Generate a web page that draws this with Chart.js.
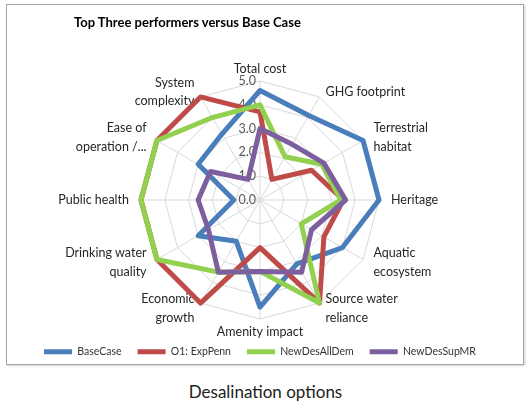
<!DOCTYPE html>
<html>
<head>
<meta charset="utf-8">
<script src="https://cdn.jsdelivr.net/npm/chart.js@4.4.1/dist/chart.umd.min.js"></script>
<style>
  body { margin: 0; background: #fff; font-family: Lato, "Liberation Sans", sans-serif; }
  #box {
    position: absolute; left: 6px; top: 4px; width: 516px; height: 359px;
    border: 1px solid #a6a6a6; box-shadow: 1px 1px 2px #d0d0d0;
  }
  #plot { position: absolute; left: 0; top: 0; width: 516px; height: 362px; }
  #title {
    position: absolute; left: 67px; top: 9px;
    font-weight: bold; font-size: 13px; color: #000;
  }
  #caption {
    position: absolute; left: 0; width: 531px; top: 381px;
    text-align: center; font-size: 17px; color: #222;
  }
</style>
</head>
<body>
<div id="box">
  <div id="plot"><canvas id="radar"></canvas></div>
  <div id="title">Top Three performers versus Base Case</div>
</div>
<div id="caption">Desalination options</div>

<script>
//----------------------
// Data
//----------------------

const categories = [
  'Total cost', 'GHG footprint', ['Terrestrial', 'habitat'], 'Heritage',
  ['Aquatic', 'ecosystem'], ['Source water', 'reliance'], 'Amenity impact',
  ['Economic', 'growth'], ['Drinking water', 'quality'], 'Public health',
  ['Ease of', 'operation /...'], ['System', 'complexity']
];

const baseCase     = [4.6, 4.1, 5.0, 5.0, 4.0, 3.1, 4.5, 2.0, 3.0, 1.1, 3.0, 3.2];
const expPenn      = [3.7, 1.0, 2.5, 3.5, 3.1, 5.0, 2.0, 5.0, 5.0, 5.0, 5.0, 5.0];
const newDesAllDem = [4.0, 2.1, 3.0, 3.4, 2.0, 5.0, 3.0, 3.5, 5.0, 5.0, 5.0, 4.0];
const newDesSupMR  = [3.0, 2.7, 3.1, 3.6, 2.5, 3.5, 3.0, 3.5, 2.5, 2.6, 2.4, 1.0];

const tickValues = [0, 1, 2, 3, 4, 5];
const tickLabels = ['0.0', '1.0', '2.0', '3.0', '4.0', '5.0'];

const FONT = 'Lato, "Liberation Sans", sans-serif';

//----------------------
// Tick labels left of the vertical axis, and Excel-like category labels
//----------------------

const labelPlugin = {
  id: 'labelPlugin',
  beforeDatasetsDraw(chart) {
    const r = chart.scales.r;
    const ctx = chart.ctx;
    ctx.save();
    ctx.font = '12.5px ' + FONT;
    ctx.textBaseline = 'middle';

    // ticks
    ctx.fillStyle = '#595959';
    ctx.textAlign = 'right';
    tickValues.forEach((v, i) => {
      const y = r.yCenter - r.getDistanceFromCenterForValue(v);
      ctx.fillText(tickLabels[i], r.xCenter - 4, y);
    });

    // category labels, centred vertically on their anchor like Excel does
    ctx.fillStyle = '#262626';
    const lineH = 18.5;
    categories.forEach((cat, i) => {
      const lines = Array.isArray(cat) ? cat : [cat];
      const px = r.getPointPosition(i, r.drawingArea + 12).x;
      let py = r.getPointPosition(i, r.drawingArea + 6).y;
      const dx = px - r.xCenter;
      if (Math.abs(dx) < 2) {
        ctx.textAlign = 'center';
        py += (py < r.yCenter ? -1 : 1) * 6.5;
      } else {
        ctx.textAlign = dx > 0 ? 'left' : 'right';
      }
      const top = py - (lines.length - 1) * lineH / 2;
      lines.forEach((t, k) => ctx.fillText(t, px, top + k * lineH));
    });
    ctx.restore();
  }
};

function series(label, data, color, order) {
  return {
    label: label,
    data: data,
    borderColor: color,
    backgroundColor: color,
    borderWidth: 5,
    borderJoinStyle: 'round',
    borderCapStyle: 'round',
    fill: false,
    pointRadius: 0,
    pointHoverRadius: 0,
    order: order
  };
}

const ctx = document.getElementById('radar').getContext('2d');
const chart = new Chart(ctx, {
  type: 'radar',
  data: {
    labels: categories,
    datasets: [
      series('BaseCase', baseCase, '#4a7ebb', 4),
      series('O1: ExpPenn', expPenn, '#be4b48', 3),
      series('NewDesAllDem', newDesAllDem, '#92d050', 2),
      series('NewDesSupMR', newDesSupMR, '#7d5fa0', 1)
    ]
  },
  options: {
    responsive: true,
    maintainAspectRatio: false,
    animation: false,
    layout: { padding: { top: 76, left: 0, right: 10, bottom: 0 } },
    plugins: {
      tooltip: { enabled: false },
      legend: {
        position: 'bottom',
        title: { display: true, text: '', font: { size: 1 }, padding: { top: 10, bottom: 0 } },
        labels: {
          usePointStyle: true,
          pointStyle: 'line',
          pointStyleWidth: 28,
          padding: 16,
          color: '#333',
          font: { family: FONT, size: 10.5 },
          sort: (a, b) => a.datasetIndex - b.datasetIndex
        }
      }
    },
    scales: {
      r: {
        min: 0,
        max: 5,
        ticks: { stepSize: 1, display: false },
        grid: { color: '#d9d9d9', lineWidth: 1 },
        angleLines: { color: '#d9d9d9', lineWidth: 1 },
        pointLabels: { display: false }
      }
    }
  },
  plugins: [labelPlugin]
});
</script>
</body>
</html>
